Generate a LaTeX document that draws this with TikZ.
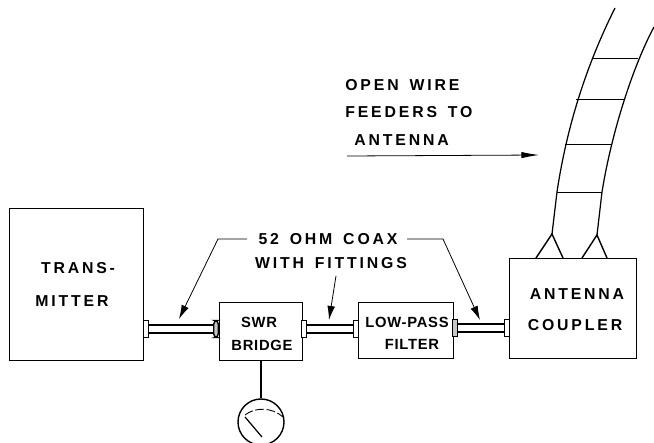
\documentclass[tikz,border=0pt]{standalone}
\usepackage{fontspec}
\setmainfont{Liberation Sans}
\newfontfamily\looseface[LetterSpace=18,WordSpace=1.5]{Liberation Sans}
\newfontfamily\tightface[LetterSpace=5]{Liberation Sans}
\usepackage{tikz}
\usetikzlibrary{arrows.meta}

\tikzset{
  box/.style={draw, line width=0.75pt, anchor=north west, inner sep=0pt},
  lettering/.style={font=\looseface\bfseries\fontsize{9}{10}\selectfont, inner sep=0pt},
  tightlettering/.style={font=\tightface\bfseries\fontsize{8.4}{10}\selectfont, inner sep=0pt},
  fitting/.style={draw, line width=0.8pt, fill=gray!45, inner sep=0pt, minimum width=2.6pt, minimum height=9.6pt},
  leader/.style={line width=0.45pt, -{Latex[length=8pt,width=4.4pt]}},
  feeder/.style={line width=0.7pt},
}

\begin{document}
\begin{tikzpicture}[x=0.02cm, y=-0.02cm]
\useasboundingbox (0,0) rectangle (654,443);

% Boxes
\node[box, minimum width=134*0.02cm, minimum height=152*0.02cm] (transmitter) at (9,208) {};
\node[box, minimum width=83*0.02cm, minimum height=58*0.02cm] (bridge) at (219,302) {};
\node[box, minimum width=95*0.02cm, minimum height=56*0.02cm] (filter) at (358,302) {};
\node[box, minimum width=127*0.02cm, minimum height=100*0.02cm] (coupler) at (509,258) {};

% Box texts
\node[lettering] (t1) at (78,268) {TRANS-};
\node[lettering] (t2) at (72,301) {MITTER};
\node[tightlettering] (b1) at (259,322) {SWR};
\node[tightlettering] (b2) at (262,345) {BRIDGE};
\node[tightlettering] (f1) at (407,322) {LOW-PASS};
\node[tightlettering] (f2) at (412,344) {FILTER};
\node[lettering] (c1) at (577,294) {ANTENNA};
\node[lettering] (c2) at (575,325) {COUPLER};

% Coax runs
\coordinate (p1) at (146,329);
\coordinate (p2) at (216,329);
\coordinate (p3) at (304,329);
\coordinate (p4) at (356,329);
\coordinate (p5) at (455,328);
\coordinate (p6) at (507,328);
\draw[line width=5.6pt] (p1) -- (p2) (p3) -- (p4) (p5) -- (p6);
\draw[line width=3.6pt, white] (p1) -- (p2) (p3) -- (p4) (p5) -- (p6);
\node[fitting, fill=white] (f11) at (p1) {};
\node[fitting, rounded corners=2pt] (f12) at (p2) {};
\node[fitting, fill=white] (f21) at (p3) {};
\node[fitting, fill=white] (f22) at (p4) {};
\node[fitting] (f31) at (p5) {};
\node[fitting, fill=white] (f32) at (p6) {};

% Meter
\node[draw, circle, line width=0.8pt, minimum size=46*0.02cm, inner sep=0pt] (meter) at (261,422) {};
\draw[line width=0.7pt] (bridge.south -| meter.north) -- (meter.north);
\coordinate (pivot) at (245,417);
\coordinate (needle) at (262,437);
\draw[line width=0.7pt] (pivot) -- (needle);
\coordinate (scaleL) at (245,415);
\coordinate (scaleR) at (283,417);
\draw[line width=0.5pt, dash pattern=on 5pt off 1.5pt] (scaleL) .. controls (255,407) and (272,407) .. (scaleR);

% Coax label and leaders
\node[lettering] (coax) at (328,239) {52 OHM COAX};
\node[lettering] (fittings) at (331,263) {WITH FITTINGS};
\coordinate (startL) at (247,239);
\coordinate (bendL) at (218,239);
\coordinate (startR) at (407,239);
\coordinate (bendR) at (443,239);
\coordinate (tipL) at (179,319);
\coordinate (tipM) at (329,320);
\coordinate (tipR) at (480,320);
\draw[leader] (startL) -- (bendL) -- (tipL);
\draw[leader] (fittings.south) ++(5,7) coordinate (startM) -- (tipM);
\draw[leader] (startR) -- (bendR) -- (tipR);

% Feeders label and arrow
\node[lettering, anchor=west] (open) at (345,85) {OPEN WIRE};
\node[lettering, anchor=west] (feeders) at (345,112) {FEEDERS TO};
\node[lettering, anchor=west] (antenna) at (354,140) {ANTENNA};
\coordinate (arrowA) at (347,156);
\coordinate (arrowB) at (539,155);
\draw[leader, -{Latex[length=10pt,width=3.6pt]}] (arrowA) -- (arrowB);

% Open wire line
\coordinate (yL) at (552,234);
\coordinate (yR) at (597,235);
\draw[feeder] (615,8) .. controls (598,42) and (570,105) .. (557,192) -- (yL);
\draw[feeder] (654,27) .. controls (634,64) and (612,130) .. (602,192) -- (yR);
\foreach \ya/\xa/\xb in {58/592/638, 99/576/624, 144/565/612, 192/557/602}
  \draw[line width=0.5pt] (\xa,\ya) -- (\xb,\ya);
\draw[line width=0.8pt] (536,258) -- (yL) -- (563,258);
\draw[line width=0.8pt] (582,258) -- (yR) -- (607,258);

\end{tikzpicture}
\end{document}
